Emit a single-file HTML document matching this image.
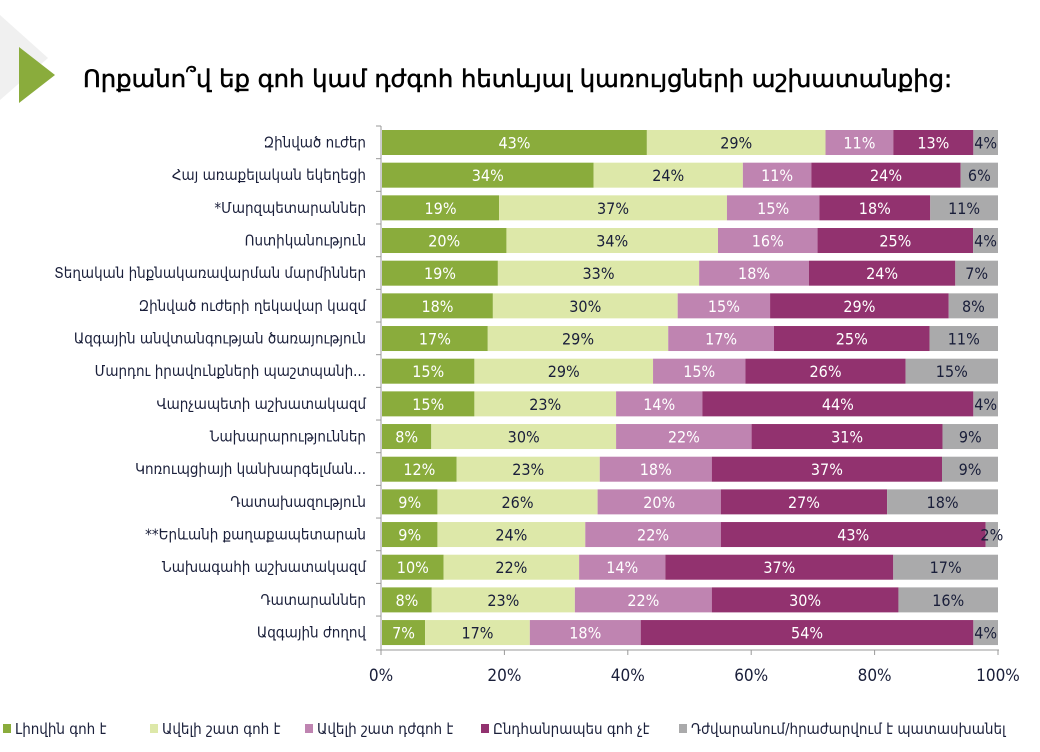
<!DOCTYPE html>
<html><head><meta charset="utf-8"><style>
body{margin:0;background:#fff;}
svg text{font-family:"DejaVu Sans Condensed","DejaVu Sans",sans-serif;}
</style></head><body>
<svg width="1040" height="747" viewBox="0 0 1040 747" xmlns="http://www.w3.org/2000/svg">
<polygon points="0,15 48,58 0,100" fill="#f0f0f0"/>
<polygon points="19,47 55,75 19,103" fill="#8aac3c"/>
<text x="83" y="87" font-size="24.3" fill="#000" stroke="#000" stroke-width="0.5" style="font-family:'DejaVu Sans','Liberation Sans',sans-serif">Որքանո՞վ եք գոհ կամ դժգոհ հետևյալ կառույցների աշխատանքից:</text>
<g id="chart"></g>
</svg>
<script>
const rows=[
["Զինված ուժեր",[43,29,11,13,4]],
["Հայ առաքելական եկեղեցի",[34,24,11,24,6]],
["*Մարզպետարաններ",[19,37,15,18,11]],
["Ոստիկանություն",[20,34,16,25,4]],
["Տեղական ինքնակառավարման մարմիններ",[19,33,18,24,7]],
["Զինված ուժերի ղեկավար կազմ",[18,30,15,29,8]],
["Ազգային անվտանգության ծառայություն",[17,29,17,25,11]],
["Մարդու իրավունքների պաշտպանի...",[15,29,15,26,15]],
["Վարչապետի աշխատակազմ",[15,23,14,44,4]],
["Նախարարություններ",[8,30,22,31,9]],
["Կոռուպցիայի կանխարգելման...",[12,23,18,37,9]],
["Դատախազություն",[9,26,20,27,18]],
["**Երևանի քաղաքապետարան",[9,24,22,43,2]],
["Նախագահի աշխատակազմ",[10,22,14,37,17]],
["Դատարաններ",[8,23,22,30,16]],
["Ազգային ժողով",[7,17,18,54,4]]];
const cols=["#8aac3c","#dde8a9","#bf84b1","#92326f","#aaaaab"];
const tc=["#fff","#1a1f3a","#fff","#fff","#1a1f3a"];
const X0=382,W=616;let s="";
rows.forEach((r,i)=>{const yc=142.5+i*32.67,y=yc-12.5;
s+=`<text x="366" y="${yc+5}" font-size="15" text-anchor="end" fill="#1a1f3a">${r[0]}</text>`;
const sum=r[1].reduce((a,b)=>a+b,0);let c=0;
r[1].forEach((v,j)=>{const x=X0+c/sum*W,w=v/sum*W;c+=v;
s+=`<rect x="${x}" y="${y}" width="${w}" height="25" fill="${cols[j]}"/>`;
s+=`<text x="${x+w/2}" y="${yc+6}" font-size="16" text-anchor="middle" fill="${tc[j]}">${v}%</text>`;});
s+=`<line x1="376" x2="381" y1="${y-4}" y2="${y-4}" stroke="#999"/>`;});
s+=`<line x1="381" x2="381" y1="126" y2="650" stroke="#999"/><line x1="376" x2="381" y1="650" y2="650" stroke="#999"/>`;
s+=`<line x1="381" x2="999" y1="650" y2="650" stroke="#999"/>`;
for(let k=0;k<=5;k++){const x=381+k*123.4;s+=`<line x1="${x}" x2="${x}" y1="650" y2="655" stroke="#999"/><text x="${x}" y="681" font-size="17" text-anchor="middle" fill="#1a1f3a">${k*20}%</text>`;}
const leg=[["Լիովին գոհ է",3],["Ավելի շատ գոհ է",150],["Ավելի շատ դժգոհ է",305],["Ընդհանրապես գոհ չէ",481],["Դժվարանում/հրաժարվում է պատասխանել",679]];
leg.forEach((l,j)=>{s+=`<rect x="${l[1]}" y="724" width="8" height="9" fill="${cols[j]}"/><text x="${l[1]+12}" y="734" font-size="15" fill="#1a1f3a">${l[0]}</text>`;});
document.getElementById("chart").innerHTML=s;
</script>
</body></html>
